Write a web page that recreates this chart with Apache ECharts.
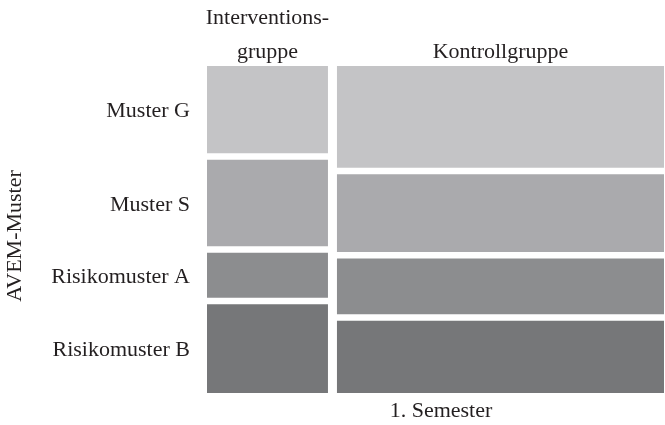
<!DOCTYPE html>
<html>
<head>
<meta charset="utf-8">
<script src="https://cdn.jsdelivr.net/npm/echarts@6/dist/echarts.min.js"></script>
<style>
html,body{margin:0;padding:0;background:#fff;}
#chart{width:665px;height:425px;}
</style>
</head>
<body>
<div id="chart"></div>
<script>
// ---- data ----
const groupLabels = ['Interventions-\ngruppe', 'Kontrollgruppe'];
const groupShares = [27.0, 73.0];               // column widths (%)
const patterns = ['Muster G', 'Muster S', 'Risikomuster A', 'Risikomuster B'];
const interventionShares = [28.4, 28.1, 14.6, 28.9]; // % within Interventionsgruppe
const kontrollShares = [33.1, 25.3, 18.1, 23.5];     // % within Kontrollgruppe
const xTitle = '1. Semester';
const yTitle = 'AVEM-Muster';

// ---- build ----
const colours = ['#c4c4c6', '#aaaaad', '#8c8d8f', '#767779'];
const FONT = '22px "Liberation Serif"';
const TXT = '#231f20';
const GAP_X = 9, GAP_Y = 6.5;
const columns = [interventionShares, kontrollShares];

const cells = [];
let cx = 0;
columns.forEach((shares, c) => {
  let cy = 0;
  shares.forEach((s, r) => {
    cells.push([cx, cy, groupShares[c], s, c, r]);
    cy += s;
  });
  cx += groupShares[c];
});

function renderItem(params, api) {
  const x0 = api.value(0), y0 = api.value(1), w = api.value(2), h = api.value(3);
  const c = api.value(4), r = api.value(5);
  const tl = api.coord([0, 0]);
  const br = api.coord([100, 100]);
  const W = br[0] - tl[0], H = br[1] - tl[1];
  const availW = W - GAP_X * (groupShares.length - 1);
  const availH = H - GAP_Y * (patterns.length - 1);
  const px = tl[0] + x0 / 100 * availW + c * GAP_X;
  const py = tl[1] + y0 / 100 * availH + r * GAP_Y;
  const pw = w / 100 * availW;
  const ph = h / 100 * availH;
  const children = [{
    type: 'rect',
    shape: { x: px, y: py, width: pw, height: ph },
    style: { fill: colours[r] }
  }];
  if (c === 0) {
    children.push({
      type: 'text',
      style: {
        text: patterns[r], x: tl[0] - 17, y: py + ph / 2 + 2,
        align: 'right', verticalAlign: 'middle',
        font: FONT, fill: TXT
      }
    });
  }
  if (r === 0) {
    children.push({
      type: 'text',
      style: {
        text: groupLabels[c], x: px + pw / 2, y: py + 3,
        align: 'center', verticalAlign: 'bottom', lineHeight: 34,
        font: FONT, fill: TXT
      }
    });
  }
  return { type: 'group', children: children };
}

const chart = echarts.init(document.getElementById('chart'), null, { renderer: 'canvas' });
chart.setOption({
  animation: false,
  backgroundColor: '#ffffff',
  grid: { left: 207, right: 1, top: 66, bottom: 32 },
  xAxis: { type: 'value', min: 0, max: 100, show: false },
  yAxis: { type: 'value', min: 0, max: 100, inverse: true, show: false },
  graphic: [
    {
      type: 'text', x: 441, y: 411,
      style: { text: xTitle, align: 'center', verticalAlign: 'middle',
               font: FONT, fill: TXT }
    },
    {
      type: 'text', x: 15, y: 236, rotation: Math.PI / 2,
      style: { text: yTitle, align: 'center', verticalAlign: 'middle',
               font: FONT, fill: TXT }
    }
  ],
  series: [{
    type: 'custom',
    renderItem: renderItem,
    data: cells,
    encode: { x: [0, 2], y: [1, 3] },
    clip: false
  }]
});
</script>
</body>
</html>
